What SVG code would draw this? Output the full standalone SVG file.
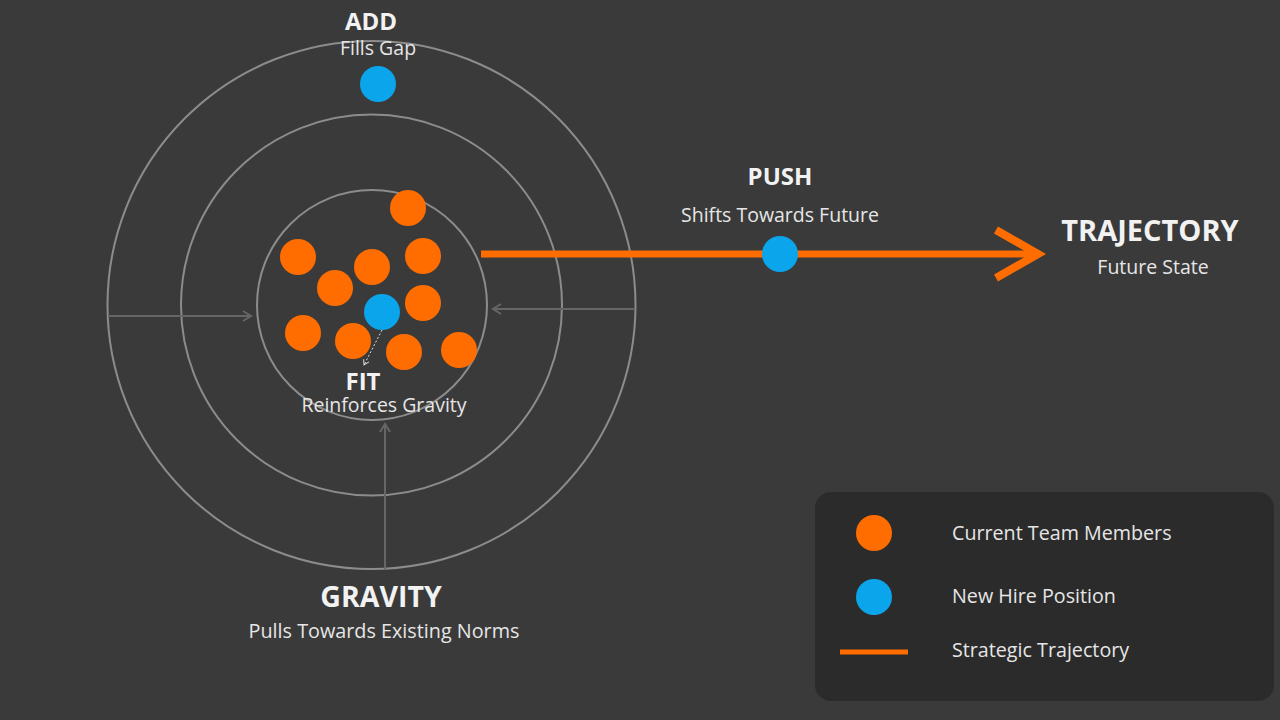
<svg xmlns="http://www.w3.org/2000/svg" width="1280" height="720" viewBox="0 0 1280 720">
<defs>
<style>
.ring{fill:none;stroke:#8c8c8c;stroke-width:2}
.pull{stroke:#666;stroke-width:2;fill:none}
.o{fill:#ff6d00}
.b{fill:#0ba5ec}
.t{font-family:"Open Sans","Noto Sans",sans-serif;fill:#f2f2f2;text-anchor:middle}
.h{font-weight:700}
.s{fill:#e6e6e6}
.lg{font-family:"Open Sans","Noto Sans",sans-serif;fill:#e6e6e6;font-size:19.7px}
</style>
<marker id="ah" markerWidth="12" markerHeight="12" refX="10" refY="6" orient="auto" markerUnits="userSpaceOnUse">
<path d="M2,1 L10,6 L2,11" fill="none" stroke="#666" stroke-width="2"/>
</marker>
<marker id="fa" markerWidth="8" markerHeight="8" refX="6" refY="4" orient="auto" markerUnits="userSpaceOnUse">
<path d="M1,1 L6,4 L1,7" fill="none" stroke="#ddd" stroke-width="1"/>
</marker>
</defs>
<rect width="1280" height="720" fill="#3a3a3a"/>
<g id="rings">
<circle class="ring" cx="371.5" cy="305" r="264"/>
<circle class="ring" cx="371.5" cy="305" r="190.5"/>
<circle class="ring" cx="372" cy="305" r="115"/>
</g>
<g id="connectors">
<line class="pull" x1="108" y1="316" x2="251" y2="316" marker-end="url(#ah)"/>
<line class="pull" x1="635" y1="309" x2="493" y2="309" marker-end="url(#ah)"/>
<line class="pull" x1="385" y1="569" x2="385" y2="424" marker-end="url(#ah)"/>
<line x1="382" y1="330" x2="364" y2="365" stroke="#ddd" stroke-width="1" stroke-dasharray="2,2" marker-end="url(#fa)"/>
<line x1="481" y1="254" x2="1034" y2="254" stroke="#ff6d00" stroke-width="7"/>
<path d="M996,230 L1038,254 L996,278" fill="none" stroke="#ff6d00" stroke-width="8"/>
</g>
<g id="team">
<circle class="o" cx="408" cy="208" r="18"/>
<circle class="o" cx="298" cy="257" r="18"/>
<circle class="o" cx="372" cy="267" r="18"/>
<circle class="o" cx="423" cy="256" r="18"/>
<circle class="o" cx="335" cy="288" r="18"/>
<circle class="o" cx="423" cy="303" r="18"/>
<circle class="o" cx="303" cy="333" r="18"/>
<circle class="o" cx="353" cy="341" r="18"/>
<circle class="o" cx="404" cy="352" r="18"/>
<circle class="o" cx="459" cy="350" r="18"/>
</g>
<g id="fit">
<circle class="b" cx="382" cy="312" r="18"/>
<text class="t h" x="363" y="390" font-size="24">FIT</text>
<text class="t s" x="384" y="412" font-size="19.5">Reinforces Gravity</text>
</g>
<g id="add">
<text class="t h" x="371" y="30" font-size="24">ADD</text>
<text class="t s" x="378" y="55" font-size="19.5">Fills Gap</text>
<circle class="b" cx="378" cy="84" r="18"/>
</g>
<g id="push">
<text class="t h" x="780" y="185" font-size="24">PUSH</text>
<text class="t s" x="780" y="222" font-size="19.5">Shifts Towards Future</text>
<circle class="b" cx="780" cy="254" r="18"/>
</g>
<g id="trajectory">
<text class="t h" x="1150" y="241" font-size="29">TRAJECTORY</text>
<text class="t s" x="1153" y="274" font-size="19.5">Future State</text>
</g>
<g id="gravity">
<text class="t h" x="381" y="607" font-size="28.5">GRAVITY</text>
<text class="t s" x="384" y="638" font-size="19.8">Pulls Towards Existing Norms</text>
</g>
<g id="legend">
<rect x="815" y="492" width="459" height="209" rx="16" fill="#2b2b2b"/>
<circle class="o" cx="874" cy="533" r="18"/>
<circle class="b" cx="874" cy="597" r="18"/>
<line x1="840" y1="652" x2="908" y2="652" stroke="#ff6d00" stroke-width="5"/>
<text class="lg" x="952" y="540">Current Team Members</text>
<text class="lg" x="952" y="603">New Hire Position</text>
<text class="lg" x="952" y="657">Strategic Trajectory</text>
</g>
</svg>
